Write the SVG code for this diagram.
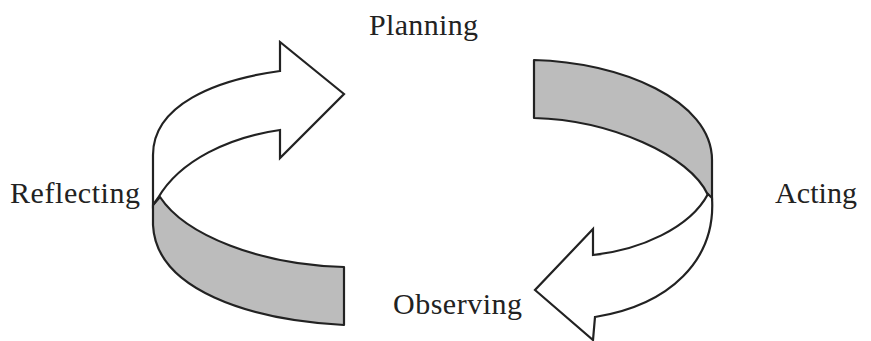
<svg xmlns="http://www.w3.org/2000/svg" width="871" height="341" viewBox="0 0 871 341">
<style>
.lbl{font-family:"Liberation Serif","Times New Roman",serif;font-size:30px;fill:#222}
.band{fill:#bcbcbc;stroke:#222;stroke-width:2.2;stroke-linejoin:round}
.arrow{fill:#fff;stroke:#222;stroke-width:2.2;stroke-linejoin:miter}
</style>
<rect width="871" height="341" fill="#fff"/>
<g id="connectors">
<path class="band" d="M160,197 C185,235 260,265 344,267 L344,325 C250,320 156,290 153,225 L153,205 Z"/>
<path class="arrow" d="M153,205 L153,155 C153,105 215,80 280,71 L280,42 L344,94 L280,158 L280,130 C230,137 180,160 158,198 Z"/>
<path class="band" d="M534,60 C620,62 712,100 712,160 L712,200 L708,195 C690,155 610,120 534,118 Z"/>
<path class="arrow" d="M712,198 C716,260 670,305 595,317 L593,340 L535,290 L593,229 L593,255 C640,250 690,228 708,194 Z"/>
</g>
<g id="planning"><text class="lbl" x="369" y="35" textLength="109">Planning</text></g>
<g id="reflecting"><text class="lbl" x="10" y="203" textLength="130">Reflecting</text></g>
<g id="acting"><text class="lbl" x="775" y="203" textLength="82">Acting</text></g>
<g id="observing"><text class="lbl" x="393" y="314" textLength="129">Observing</text></g>
</svg>
